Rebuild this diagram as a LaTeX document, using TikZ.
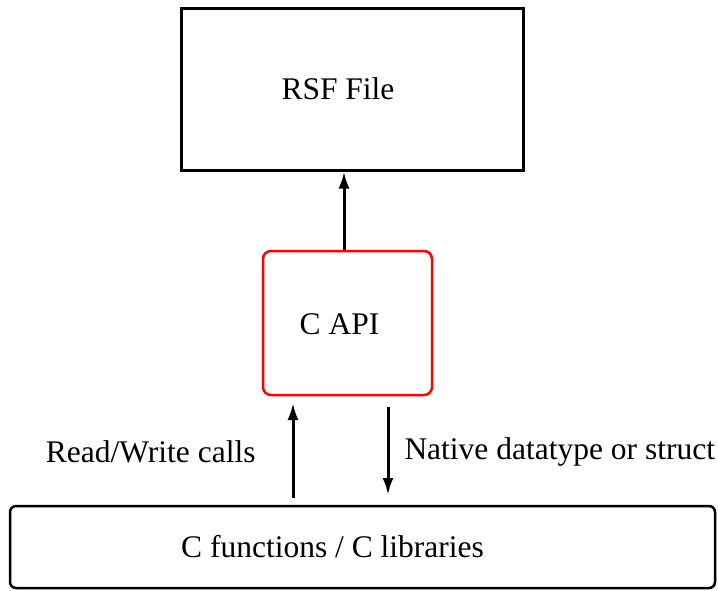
\documentclass[tikz,border=0pt]{standalone}
\usepackage{fontspec}
\setmainfont{Liberation Serif}
\usetikzlibrary{arrows.meta}
\tikzset{box/.style={draw, line width=3pt, inner sep=0pt}}
\tikzset{l/.style={font=\fontsize{31.5}{31.5}\selectfont, inner sep=0pt}}
\tikzset{flow/.style={line width=3pt, -{Latex[length=17pt,width=11pt]}}}

\begin{document}
\begin{tikzpicture}[x=1pt, y=-1pt, font=\fontsize{31.5}{31.5}\selectfont]
  \useasboundingbox (0,0) rectangle (718,590);
  \node [box, minimum width=342pt, minimum height=162pt,
         label={[l, xshift=-14pt]center:RSF File}] (rsf) at (352,89) {};
  \node [box, draw=red, line width=2.5pt, rounded corners=8pt,
         minimum width=169pt, minimum height=144pt,
         label={[l, xshift=-8pt, yshift=-1pt]center:C API}] (api) at (347.5,323) {};
  \node [box, line width=2.5pt, rounded corners=6pt,
         minimum width=705pt, minimum height=82pt,
         label={[l, xshift=-30pt]center:C functions / C libraries}] (lib) at (362.5,547) {};
  % calls going up, data coming back down
  \coordinate (rwfrom) at (293,498);
  \coordinate (rwto) at (293,403);
  \coordinate (ndfrom) at (388,407);
  \coordinate (ndto) at (388,495);
  \draw [flow] (api.north -| 344,0) -- (rsf.south -| 344,0);
  \draw [flow] (rwfrom) -- node [l, left, xshift=-36pt, yshift=-1pt] {Read/Write calls} (rwto);
  \draw [flow] (ndfrom) -- node [l, right, xshift=15pt, yshift=-1pt] {Native datatype or struct} (ndto);
\end{tikzpicture}
\end{document}
